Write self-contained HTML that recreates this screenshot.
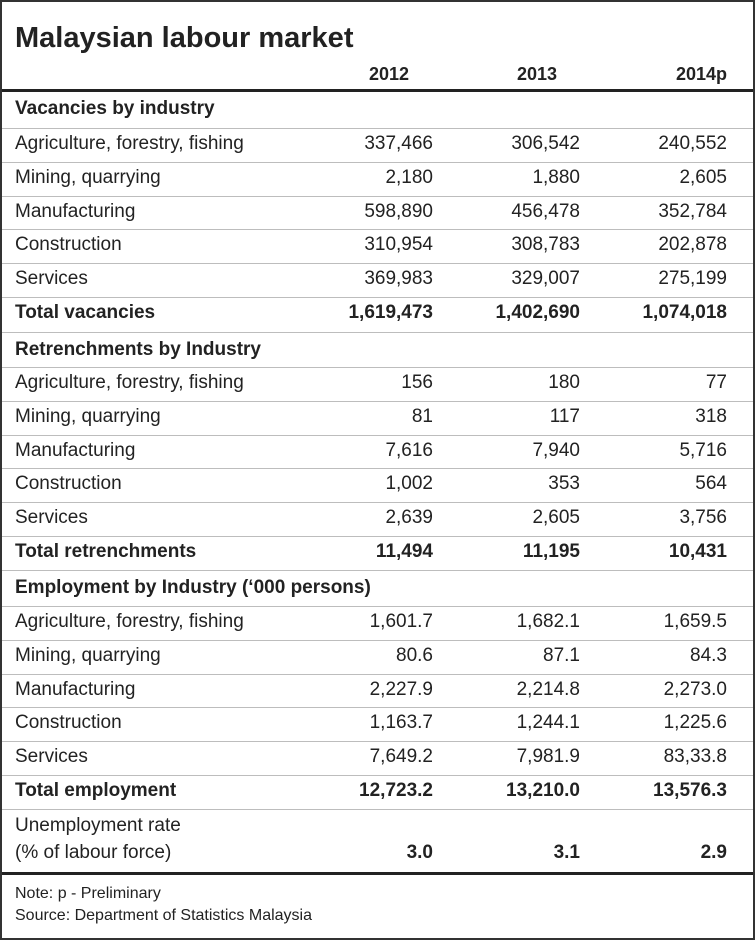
<!DOCTYPE html>
<html><head><meta charset="utf-8"><style>
body{margin:0;background:#fff;}
#t{position:relative;width:755px;height:940px;overflow:hidden;font-family:"Liberation Sans",sans-serif;color:#222;}
.b{position:absolute;left:0;top:0;width:751px;height:936px;border:2px solid #333;}
.ln{position:absolute;left:2px;width:751px;height:1px;background:#bdbdbd;}
.th{position:absolute;left:2px;width:751px;height:3px;background:#222;}
.tx{position:absolute;font-size:19px;line-height:22px;white-space:nowrap;}
.r{text-align:right;}
.bd{font-weight:bold;}
</style></head><body>
<div id="t">
<div class="b"></div>
<div class="tx bd" style="left:15px;top:21px;font-size:29px;line-height:34px">Malaysian labour market</div>
<div class="tx bd r" style="left:309px;top:63px;width:100px;font-size:18px">2012</div>
<div class="tx bd r" style="left:457px;top:63px;width:100px;font-size:18px">2013</div>
<div class="tx bd r" style="left:627px;top:63px;width:100px;font-size:18px">2014p</div>
<div class="th" style="top:89px"></div>
<div class="th" style="top:872px"></div>
<div class="tx" style="left:15px;top:884px;font-size:16px;line-height:20px">Note: p - Preliminary</div>
<div class="tx" style="left:15px;top:906px;font-size:16px;line-height:20px">Source: Department of Statistics Malaysia</div>
<div class="tx" style="left:15px;top:815px">Unemployment rate</div>
<div class="tx" style="left:15px;top:842px">(% of labour force)</div>
<div class="tx bd r" style="left:300px;width:133px;top:842px">3.0</div>
<div class="tx bd r" style="left:447px;width:133px;top:842px">3.1</div>
<div class="tx bd r" style="left:594px;width:133px;top:842px">2.9</div>
</div>
<script>
const sections=[
 {title:"Vacancies by industry",top:90,bottom:128,rows:[
  ["Agriculture, forestry, fishing","337,466","306,542","240,552"],
  ["Mining, quarrying","2,180","1,880","2,605"],
  ["Manufacturing","598,890","456,478","352,784"],
  ["Construction","310,954","308,783","202,878"],
  ["Services","369,983","329,007","275,199"]],
  total:["Total vacancies","1,619,473","1,402,690","1,074,018"]},
 {title:"Retrenchments by Industry",top:332,bottom:367,rows:[
  ["Agriculture, forestry, fishing","156","180","77"],
  ["Mining, quarrying","81","117","318"],
  ["Manufacturing","7,616","7,940","5,716"],
  ["Construction","1,002","353","564"],
  ["Services","2,639","2,605","3,756"]],
  total:["Total retrenchments","11,494","11,195","10,431"]},
 {title:"Employment by Industry (\u2018000 persons)",top:570,bottom:606,rows:[
  ["Agriculture, forestry, fishing","1,601.7","1,682.1","1,659.5"],
  ["Mining, quarrying","80.6","87.1","84.3"],
  ["Manufacturing","2,227.9","2,214.8","2,273.0"],
  ["Construction","1,163.7","1,244.1","1,225.6"],
  ["Services","7,649.2","7,981.9","83,33.8"]],
  total:["Total employment","12,723.2","13,210.0","13,576.3"]}
];
const rowH=33.8;
const colRight=[433,580,727];
const T=document.getElementById('t');
function txt(s,x,y,w,bold,right){
 const d=document.createElement('div');
 d.className='tx'+(bold?' bd':'')+(right?' r':'');
 d.style.left=x+'px';d.style.top=y+'px';if(w)d.style.width=w+'px';
 d.textContent=s;T.appendChild(d);return d;}
function line(y){const l=document.createElement('div');l.className='ln';l.style.top=Math.round(y)+'px';
 
 
 T.appendChild(l);}
sections.forEach(sec=>{
 const h=txt(sec.title,15,(sec.top+sec.bottom)/2-11,0,true,false);
 
 
 const all=sec.rows.concat([sec.total]);
 all.forEach((r,i)=>{
  const y0=sec.bottom+i*rowH;
  line(y0);
  const isT=i===all.length-1;
  const lab=txt(r[0],15,y0+rowH/2-12,0,isT,false);
  
  
  for(let c=0;c<3;c++){
   const v=txt(r[c+1],colRight[c]-140,y0+rowH/2-12,140,isT,true);
   
   
  }
 });
 if(sec.top>90) line(sec.top);
});
line(606+6*rowH);
</script>
</body></html>
